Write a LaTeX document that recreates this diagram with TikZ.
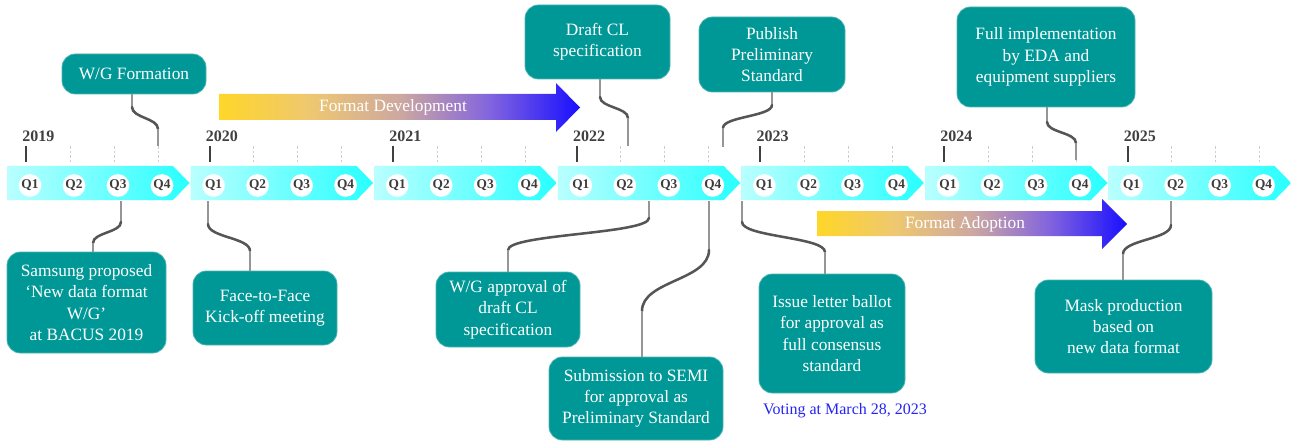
\documentclass[tikz,border=0pt]{standalone}
\usepackage{fontspec}
\setmainfont{Liberation Serif}
\usetikzlibrary{calc}

\definecolor{boxteal}{RGB}{0,152,150}
\definecolor{boxedge}{RGB}{80,180,178}
\definecolor{bandL}{RGB}{185,255,255}
\definecolor{bandR}{RGB}{40,255,255}
\definecolor{yeartxt}{RGB}{64,64,64}
\definecolor{qtxt}{RGB}{60,60,60}
\definecolor{tickgray}{RGB}{205,205,205}
\definecolor{stemgray}{RGB}{150,150,150}
\definecolor{curvegray}{RGB}{85,85,85}
\definecolor{votblue}{RGB}{35,35,245}
\definecolor{gA}{RGB}{255,214,40}
\definecolor{gB}{RGB}{238,200,112}
\definecolor{gC}{RGB}{205,168,160}
\definecolor{gD}{RGB}{130,100,222}
\definecolor{gE}{RGB}{25,15,255}

% yellow-to-blue flow used by the two phase arrows
\pgfdeclarehorizontalshading{formatflow}{100bp}{color(0bp)=(gA); color(25bp)=(gA);
  color(37.5bp)=(gB); color(50bp)=(gC); color(62.5bp)=(gD); color(75bp)=(gE); color(100bp)=(gE)}

\begin{document}
\begin{tikzpicture}[x=0.75pt,y=-0.75pt,
  band/.style={left color=bandL, right color=bandR, draw=none},
  qdot/.style={circle, fill=white, inner sep=0pt, minimum size=17pt,
    font=\fontsize{10}{10}\selectfont\bfseries, text=qtxt},
  yearlbl/.style={font=\fontsize{12}{12}\selectfont\bfseries, text=yeartxt,
    inner sep=0pt, anchor=base west},
  yeartick/.style={draw=yeartxt, line width=1.4pt},
  qtick/.style={draw=tickgray, dash pattern=on 2pt off 1.5pt, line width=0.6pt},
  event/.style={rectangle, rounded corners=10pt, fill=boxteal, draw=boxedge,
    line width=0.6pt, text=white, align=center, inner sep=2pt,
    font=\fontsize{13}{16}\selectfont},
  stem/.style={draw=stemgray, line width=1pt},
  twist/.style={draw=curvegray, line width=1.9pt, line cap=round},
  flowlbl/.style={text=white, font=\fontsize{13}{13}\selectfont, inner sep=0pt},
  note/.style={text=votblue, font=\fontsize{12}{12}\selectfont, inner sep=0pt}]

\useasboundingbox (0,0) rectangle (1291,442);

% yearly chevrons with quarter markers
\foreach \i/\yr in {0/2019,1/2020,2/2021,3/2022,4/2023,5/2024,6/2025} {
  \pgfmathsetmacro{\s}{7+183.6*\i}
  \shade[band] (\s,166) -- ({\s+166},166) -- ({\s+182.5},183) -- ({\s+166},200) -- (\s,200) -- cycle;
  \draw[yeartick] ({\s+19},146) -- ({\s+19},162);
  \node[yearlbl] (y\yr) at ({\s+15},142) {\yr};
  \foreach \q in {1,2,3,4} {
    \pgfmathsetmacro{\qx}{\s+23+44*(\q-1)}
    \node[qdot] (q\yr-\q) at (\qx,185.5) {Q\q};
    \coordinate (tk\yr-\q) at ({\qx-4},146);
  }
  \foreach \q in {2,3,4} \draw[qtick] (tk\yr-\q) -- ++(0,16);
}

% phase arrows
\shade[shading=formatflow] (219,94) -- (556,94) -- (556,83) -- (580,107.5) -- (556,132)
  -- (556,120) -- (219,120) -- cycle;
\node[flowlbl] (fdev) at (393,107) {Format Development};
\shade[shading=formatflow] (817,211) -- (1102,211) -- (1102,199) -- (1127,224) -- (1102,249)
  -- (1102,236) -- (817,236) -- cycle;
\node[flowlbl] (fadopt) at (965,224) {Format Adoption};

% milestones above the timeline
\node[event, minimum width=108pt, minimum height=30pt] (b1) at (134,74) {W/G Formation};
\node[event, minimum width=108.75pt, minimum height=55.5pt] (b2) at (597.5,42) {Draft CL\\specification};
\node[event, minimum width=109.5pt, minimum height=56.25pt] (b3) at (772,54.5) {Publish\\Preliminary\\Standard};
\node[event, minimum width=133.5pt, minimum height=75pt] (b4) at (1046,57) {Full implementation\\by EDA and\\equipment suppliers};

% milestones below the timeline
\node[event, minimum width=119.25pt, minimum height=75.75pt] (b5) at (86.5,302.5) {Samsung proposed\\‘New data format\\W/G’\\at BACUS 2019};
\node[event, minimum width=108pt, minimum height=55.5pt] (b6) at (265,308) {Face-to-Face\\Kick-off meeting};
\node[event, minimum width=108pt, minimum height=56.25pt] (b7) at (508,309.5) {W/G approval of\\draft CL\\specification};
\node[event, minimum width=130.5pt, minimum height=62.25pt] (b8) at (636,398.5) {Submission to SEMI\\for approval as\\Preliminary Standard};
\node[event, minimum width=109.5pt, minimum height=89.25pt] (b9) at (832,333.5) {Issue letter ballot\\for approval as\\full consensus\\standard};
\node[event, minimum width=132.75pt, minimum height=69.75pt] (b10) at (1123.5,326.5) {Mask production\\based on\\new data format};
\node[note] (vote) at (845,411) {Voting at March 28, 2023};

% connector bends
\coordinate (c1a) at (132,107);  \coordinate (c1b) at (158,129);
\coordinate (c2a) at (600,97);   \coordinate (c2b) at (628,118);  \coordinate (e2) at (628,146);
\coordinate (c3a) at (772,105);  \coordinate (c3b) at (723,128);  \coordinate (e3) at (723,147);
\coordinate (c4a) at (1047,122); \coordinate (c4b) at (1076,143); \coordinate (e4) at (1076,160);
\coordinate (a5) at (121,201);   \coordinate (c5a) at (121,222);  \coordinate (c5b) at (93,243);
\coordinate (a6) at (208,201);   \coordinate (c6a) at (208,224);  \coordinate (c6b) at (250,251);
\coordinate (a7) at (649,201);   \coordinate (c7a) at (649,218);  \coordinate (c7b) at (508,250);
\coordinate (a8) at (709,201);   \coordinate (c8a) at (709,250);  \coordinate (c8b) at (642,311);
\coordinate (a9) at (742,201);   \coordinate (c9a) at (742,222);  \coordinate (c9b) at (825,252);
\coordinate (a10) at (1171,201); \coordinate (c10a) at (1171,225); \coordinate (c10b) at (1123,254);

% connectors: thin stem, S-bend, thin stem
\draw[stem] (b1.south -| c1a) -- (c1a);
\draw[twist] (c1a) .. controls (132,118) and (158,118) .. (c1b);
\draw[stem] (c1b) -- (tk2019-4);

\draw[stem] (b2.south -| c2a) -- (c2a);
\draw[twist] (c2a) .. controls (600,107.5) and (628,107.5) .. (c2b);
\draw[stem] (c2b) -- (e2);

\draw[stem] (b3.south -| c3a) -- (c3a);
\draw[twist] (c3a) .. controls (772,116.5) and (723,116.5) .. (c3b);
\draw[stem] (c3b) -- (e3);

\draw[stem] (b4.south -| c4a) -- (c4a);
\draw[twist] (c4a) .. controls (1047,132.5) and (1076,132.5) .. (c4b);
\draw[stem] (c4b) -- (e4);

\draw[stem] (a5) -- (c5a);
\draw[twist] (c5a) .. controls (121,232.5) and (93,232.5) .. (c5b);
\draw[stem] (c5b) -- (b5.north -| c5b);

\draw[stem] (a6) -- (c6a);
\draw[twist] (c6a) .. controls (208,237.5) and (250,237.5) .. (c6b);
\draw[stem] (c6b) -- (b6.north -| c6b);

\draw[stem] (a7) -- (c7a);
\draw[twist] (c7a) .. controls (649,234) and (508,234) .. (c7b);
\draw[stem] (c7b) -- (b7.north -| c7b);

\draw[stem] (a8) -- (c8a);
\draw[twist] (c8a) .. controls (709,280.5) and (642,280.5) .. (c8b);
\draw[stem] (c8b) -- (b8.north -| c8b);

\draw[stem] (a9) -- (c9a);
\draw[twist] (c9a) .. controls (742,237) and (825,237) .. (c9b);
\draw[stem] (c9b) -- (b9.north -| c9b);

\draw[stem] (a10) -- (c10a);
\draw[twist] (c10a) .. controls (1171,239.5) and (1123,239.5) .. (c10b);
\draw[stem] (c10b) -- (b10.north -| c10b);

\end{tikzpicture}
\end{document}
